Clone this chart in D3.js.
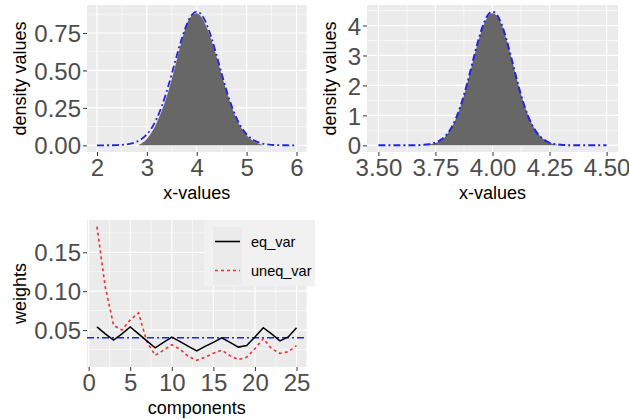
<!DOCTYPE html>
<html><head><meta charset="utf-8">
<script src="https://cdn.jsdelivr.net/npm/d3@7"></script>
<style>body{margin:0;background:#fff}svg{display:block}</style>
</head><body>
<svg id="chart" width="629" height="419"></svg>
<script>
// ---------- data ----------
// Panel 1: density, sample (gray area) vs theoretical (blue dash-dot)
const p1BlueX = [2.0,2.1,2.2,2.3,2.4,2.5,2.6,2.7,2.8,2.9,3.0,3.1,3.2,3.3,3.4,3.5,3.6,3.7,3.8,3.9,4.0,4.1,4.2,4.3,4.4,4.5,4.6,4.7,4.8,4.9,5.0,5.1,5.2,5.3,5.4,5.5,5.6,5.7,5.8,5.9,6.0];
const p1BlueY = [0.0000,0.0001,0.0003,0.0006,0.0015,0.0032,0.0066,0.0131,0.0244,0.0434,0.0733,0.1178,0.1802,0.2622,0.3629,0.4777,0.5983,0.7127,0.8076,0.8705,0.8925,0.8705,0.8076,0.7127,0.5983,0.4777,0.3629,0.2622,0.1802,0.1178,0.0733,0.0434,0.0244,0.0131,0.0066,0.0032,0.0015,0.0006,0.0003,0.0001,0.0000];
const p1GrayX = [2.83,2.9,3.0,3.1,3.2,3.3,3.4,3.5,3.6,3.7,3.8,3.9,4.0,4.1,4.2,4.3,4.4,4.5,4.6,4.7,4.8,4.9,5.0,5.1,5.2,5.3,5.35];
const p1GrayY = [0.0,0.012,0.040,0.085,0.150,0.230,0.325,0.440,0.570,0.700,0.820,0.870,0.890,0.860,0.790,0.700,0.590,0.470,0.355,0.255,0.170,0.110,0.065,0.035,0.015,0.004,0.0];
const p1XTicks = [2,3,4,5,6];
const p1YTicks = [0,0.25,0.5,0.75];

// Panel 2
const p2BlueX = [3.50,3.52,3.54,3.56,3.58,3.60,3.62,3.64,3.66,3.68,3.70,3.72,3.74,3.76,3.78,3.80,3.82,3.84,3.86,3.88,3.90,3.92,3.94,3.96,3.98,4.00,4.02,4.04,4.06,4.08,4.10,4.12,4.14,4.16,4.18,4.20,4.22,4.24,4.26,4.28,4.30,4.32,4.34,4.36,4.38,4.40,4.42,4.44,4.46,4.48,4.50];
const p2BlueY = [0,0,0,0.0001,0.0002,0.0002,0.0005,0.0014,0.0032,0.0074,0.0161,0.0332,0.0653,0.1218,0.2170,0.3663,0.5890,0.9008,1.3109,1.8141,2.3883,2.9909,3.5627,4.0373,4.3518,4.4620,4.3518,4.0373,3.5627,2.9909,2.3883,1.8141,1.3109,0.9008,0.5890,0.3663,0.2170,0.1218,0.0653,0.0332,0.0161,0.0074,0.0032,0.0014,0.0005,0.0002,0.0002,0.0001,0,0,0];
const p2GrayX = [3.71,3.74,3.76,3.78,3.80,3.82,3.84,3.86,3.88,3.90,3.92,3.94,3.96,3.98,4.00,4.02,4.04,4.06,4.08,4.10,4.12,4.14,4.16,4.18,4.20,4.22,4.24,4.26,4.28,4.29];
const p2GrayY = [0,0.05,0.09,0.18,0.34,0.57,0.88,1.28,1.78,2.37,2.98,3.55,4.02,4.33,4.45,4.35,4.05,3.58,3.00,2.40,1.83,1.32,0.91,0.60,0.37,0.22,0.12,0.06,0.02,0];
const p2XTicks = [3.5,3.75,4,4.25,4.5];
const p2YTicks = [0,1,2,3,4];

// Panel 3: weights per component
const components = [1,2,3,4,5,6,7,8,9,10,11,12,13,14,15,16,17,18,19,20,21,22,23,24,25];
const eqVar   = [0.054,0.045,0.037,0.045,0.054,0.045,0.036,0.027,0.034,0.041,0.035,0.029,0.023,0.029,0.034,0.040,0.034,0.028,0.030,0.041,0.053,0.045,0.036,0.041,0.053];
const uneqVar = [0.183,0.105,0.056,0.050,0.063,0.072,0.035,0.0174,0.024,0.031,0.025,0.016,0.011,0.015,0.020,0.024,0.017,0.012,0.015,0.026,0.039,0.026,0.020,0.022,0.030];
const refWeight = 0.04;
const p3XTicks = [0,5,10,15,20,25];
const p3YTicks = [0.05,0.10,0.15];
const seriesNames = ["eq_var","uneq_var"];

// ---------- drawing ----------
const svg = d3.select("#chart");
const FONT = "'Liberation Sans', Arial, Helvetica, sans-serif";
const BLUE = "#2323e0";
const GRAYFILL = "#676767";

function expand(lo, hi){ const d=(hi-lo)*0.05; return [lo-d, hi+d]; }

function panel(o){
  const g = svg.append("g");
  const x = d3.scaleLinear().domain(o.xdom).range([o.x0, o.x1]);
  const y = d3.scaleLinear().domain(o.ydom).range([o.y1, o.y0]);
  g.append("rect").attr("x",o.x0).attr("y",o.y0).attr("width",o.x1-o.x0).attr("height",o.y1-o.y0).attr("fill","#ebebeb");
  const minor = (ticks)=>{ const st=ticks[1]-ticks[0]; const out=[]; for(let i=-1;i<ticks.length;i++){ out.push(ticks[0]+st*(i+0.5)); } return out; };
  const inX = v=> v>=o.xdom[0] && v<=o.xdom[1];
  const inY = v=> v>=o.ydom[0] && v<=o.ydom[1];
  minor(o.xt).filter(inX).forEach(v=>g.append("line").attr("x1",x(v)).attr("x2",x(v)).attr("y1",o.y0).attr("y2",o.y1).attr("stroke","#fff").attr("stroke-width",0.6));
  minor(o.yt).filter(inY).forEach(v=>g.append("line").attr("y1",y(v)).attr("y2",y(v)).attr("x1",o.x0).attr("x2",o.x1).attr("stroke","#fff").attr("stroke-width",0.6));
  o.xt.forEach(v=>g.append("line").attr("x1",x(v)).attr("x2",x(v)).attr("y1",o.y0).attr("y2",o.y1).attr("stroke","#fff").attr("stroke-width",1.2));
  o.yt.forEach(v=>g.append("line").attr("y1",y(v)).attr("y2",y(v)).attr("x1",o.x0).attr("x2",o.x1).attr("stroke","#fff").attr("stroke-width",1.2));
  const ax = g.append("g").attr("transform",`translate(0,${o.y1})`)
    .call(d3.axisBottom(x).tickValues(o.xt).tickFormat(d3.format(o.xf)).tickSize(4).tickPadding(3));
  const ay = g.append("g").attr("transform",`translate(${o.x0},0)`)
    .call(d3.axisLeft(y).tickValues(o.yt).tickFormat(d3.format(o.yf)).tickSize(4).tickPadding(2));
  [ax,ay].forEach(a=>{
    a.select(".domain").remove();
    a.selectAll(".tick line").attr("stroke","#333").attr("stroke-width",1);
    a.selectAll(".tick text").attr("fill","#4d4d4d").style("font-family",FONT).style("font-size","24px");
  });
  ay.selectAll(".tick text").attr("dy","0.36em");
  ax.selectAll(".tick text").attr("dy","0.71em");
  svg.append("text").attr("x",(o.x0+o.x1)/2).attr("y",o.y1+47).attr("text-anchor","middle")
    .style("font-family",FONT).style("font-size","18px").attr("fill","#000").text(o.xlab);
  svg.append("text").attr("transform",`translate(${o.ylabX},${(o.y0+o.y1)/2}) rotate(-90)`).attr("text-anchor","middle")
    .style("font-family",FONT).style("font-size","18px").attr("fill","#000").text(o.ylab);
  return {g,x,y};
}

// Panel 1
{
  const p = panel({x0:87,x1:306.5,y0:5,y1:152,xdom:expand(2,6),ydom:expand(0,d3.max(p1BlueY)),
    xt:p1XTicks,yt:p1YTicks,xf:"d",yf:".2f",xlab:"x-values",ylab:"density values",ylabX:26});
  const area = d3.area().x((d,i)=>p.x(p1GrayX[i])).y0(p.y(0)).y1(d=>p.y(d)).curve(d3.curveBasis);
  p.g.append("path").datum(p1GrayY).attr("d",area).attr("fill",GRAYFILL);
  const line = d3.line().x((d,i)=>p.x(p1BlueX[i])).y(d=>p.y(d)).curve(d3.curveMonotoneX);
  p.g.append("path").datum(p1BlueY).attr("d",line).attr("fill","none").attr("stroke",BLUE)
    .attr("stroke-width",1.8).attr("stroke-dasharray","7,3,2,3");
}
// Panel 2
{
  const p = panel({x0:367,x1:618,y0:5,y1:152,xdom:expand(3.5,4.5),ydom:expand(0,d3.max(p2BlueY)),
    xt:p2XTicks,yt:p2YTicks,xf:".2f",yf:"d",xlab:"x-values",ylab:"density values",ylabX:336});
  const area = d3.area().x((d,i)=>p.x(p2GrayX[i])).y0(p.y(0)).y1(d=>p.y(d)).curve(d3.curveBasis);
  p.g.append("path").datum(p2GrayY).attr("d",area).attr("fill",GRAYFILL);
  const line = d3.line().x((d,i)=>p.x(p2BlueX[i])).y(d=>p.y(d)).curve(d3.curveMonotoneX);
  p.g.append("path").datum(p2BlueY).attr("d",line).attr("fill","none").attr("stroke",BLUE)
    .attr("stroke-width",2).attr("stroke-dasharray","7,3,2,3");
}
// Panel 3
{
  const allW = eqVar.concat(uneqVar);
  const p = panel({x0:87,x1:306.5,y0:220,y1:367,xdom:expand(1,25),ydom:expand(d3.min(allW),d3.max(allW)),
    xt:p3XTicks,yt:p3YTicks,xf:"d",yf:".2f",xlab:"components",ylab:"weights",ylabX:26});
  const line = d3.line().x((d,i)=>p.x(components[i])).y(d=>p.y(d));
  p.g.append("line").attr("x1",87).attr("x2",306.5).attr("y1",p.y(refWeight)).attr("y2",p.y(refWeight))
    .attr("stroke",BLUE).attr("stroke-width",1.6).attr("stroke-dasharray","7,3,2,3");
  p.g.append("path").datum(uneqVar).attr("d",line).attr("fill","none").attr("stroke","#ee3030")
    .attr("stroke-width",1.6).attr("stroke-dasharray","3,3");
  p.g.append("path").datum(eqVar).attr("d",line).attr("fill","none").attr("stroke","#000")
    .attr("stroke-width",1.5);
  // legend
  const lg = svg.append("g");
  lg.append("rect").attr("x",204).attr("y",220).attr("width",111).attr("height",66).attr("fill","#f1f1f1");
  const styles = [{c:"#000",d:null},{c:"#ee3030",d:"3,3"}];
  seriesNames.forEach((n,i)=>{
    const ky = 227 + i*29;
    lg.append("rect").attr("x",213).attr("y",ky).attr("width",29).attr("height",29).attr("fill","#ebebeb");
    const l = lg.append("line").attr("x1",215).attr("x2",240).attr("y1",ky+14.5).attr("y2",ky+14.5)
      .attr("stroke",styles[i].c).attr("stroke-width",1.6);
    if(styles[i].d) l.attr("stroke-dasharray",styles[i].d);
    lg.append("text").attr("x",251).attr("y",ky+14.5).attr("dy","0.35em").style("font-family",FONT)
      .style("font-size","14.5px").attr("fill","#000").text(n);
  });
}
</script>
</body></html>
